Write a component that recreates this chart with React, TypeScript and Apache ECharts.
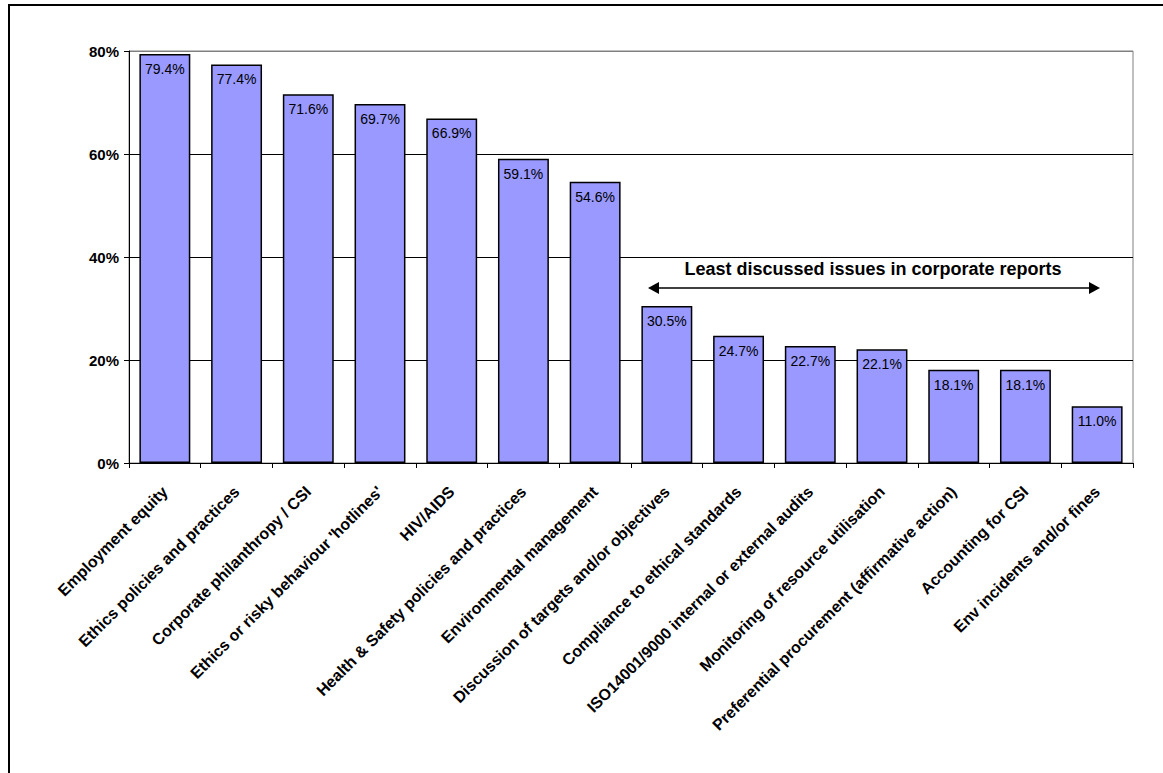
import React, { useEffect, useRef } from "react";
import * as echarts from "echarts";

const categories = [
  "Employment equity",
  "Ethics policies and practices",
  "Corporate philanthropy / CSI",
  "Ethics or risky behaviour 'hotlines'",
  "HIV/AIDS",
  "Health & Safety policies and practices",
  "Environmental management",
  "Discussion of targets and/or objectives",
  "Compliance to ethical standards",
  "ISO14001/9000 internal or external audits",
  "Monitoring of resource utilisation",
  "Preferential procurement (affirmative action)",
  "Accounting for CSI",
  "Env incidents and/or fines",
];
const values = [79.4, 77.4, 71.6, 69.7, 66.9, 59.1, 54.6, 30.5, 24.7, 22.7, 22.1, 18.1, 18.1, 11.0];
const yTicks = [0, 20, 40, 60, 80];
const annotationText = "Least discussed issues in corporate reports";

const FONT = "'Liberation Sans', Arial, sans-serif";

export default function App() {
  const ref = useRef<HTMLDivElement>(null);
  useEffect(() => {
    if (!ref.current) return;
    const chart = echarts.init(ref.current, null, { renderer: "svg" });
    const arrowY = 288;
    const xl = 648;
    const xr = 1100;
    chart.setOption({
      animation: false,
      backgroundColor: "#fff",
      textStyle: { fontFamily: FONT },
      grid: {
        left: 129,
        right: 30,
        top: 51,
        bottom: 310,
        show: true,
        borderColor: "#808080",
        borderWidth: 1,
        backgroundColor: "transparent",
      },
      xAxis: {
        type: "category",
        data: categories,
        boundaryGap: true,
        axisLine: { lineStyle: { color: "#000", width: 1 } },
        axisTick: { show: true, alignWithLabel: false, length: 5, lineStyle: { color: "#000" } },
        axisLabel: {
          rotate: 45,
          interval: 0,
          margin: 26,
          color: "#000",
          fontFamily: FONT,
          fontWeight: "bold",
          fontSize: 16,
        },
      },
      yAxis: {
        type: "value",
        min: yTicks[0],
        max: yTicks[yTicks.length - 1],
        interval: 20,
        axisLine: { show: true, lineStyle: { color: "#000", width: 1 } },
        axisTick: { show: true, length: 5, lineStyle: { color: "#000" } },
        axisLabel: {
          formatter: "{value}%",
          color: "#000",
          fontFamily: FONT,
          fontWeight: "bold",
          fontSize: 15,
          margin: 10,
        },
        splitLine: {
          show: true,
          lineStyle: { color: ["#000", "#000", "#000", "#000", "#808080"], width: 1 },
        },
      },
      series: [
        {
          type: "bar",
          data: values,
          barCategoryGap: "29%",
          itemStyle: { color: "#9999FF", borderColor: "#000", borderWidth: 1.5 },
          label: {
            show: true,
            position: "insideTop",
            distance: 8,
            color: "#000",
            fontFamily: FONT,
            fontSize: 14,
            formatter: (p: any) => Number(p.value).toFixed(1) + "%",
          },
        },
      ],
      graphic: [
        {
          type: "rect",
          shape: { x: 9, y: 5, width: 1200, height: 820 },
          style: { fill: "none", stroke: "#000", lineWidth: 2 },
          silent: true,
        },
        {
          type: "line",
          shape: { x1: xl + 8, y1: arrowY, x2: xr - 8, y2: arrowY },
          style: { stroke: "#000", lineWidth: 1.5 },
        },
        {
          type: "polygon",
          shape: { points: [[xl, arrowY], [xl + 11, arrowY - 6], [xl + 11, arrowY + 6]] },
          style: { fill: "#000" },
        },
        {
          type: "polygon",
          shape: { points: [[xr, arrowY], [xr - 11, arrowY - 6], [xr - 11, arrowY + 6]] },
          style: { fill: "#000" },
        },
        {
          type: "text",
          x: 873,
          y: 269,
          style: {
            text: annotationText,
            fill: "#000",
            font: `bold 18px ${FONT}`,
            textAlign: "center",
            textVerticalAlign: "middle",
          },
        },
      ],
    });
    return () => chart.dispose();
  }, []);
  return (
    <div
      ref={ref}
      style={{ position: "fixed", left: 0, top: 0, width: 1163, height: 773, background: "#fff" }}
    />
  );
}
